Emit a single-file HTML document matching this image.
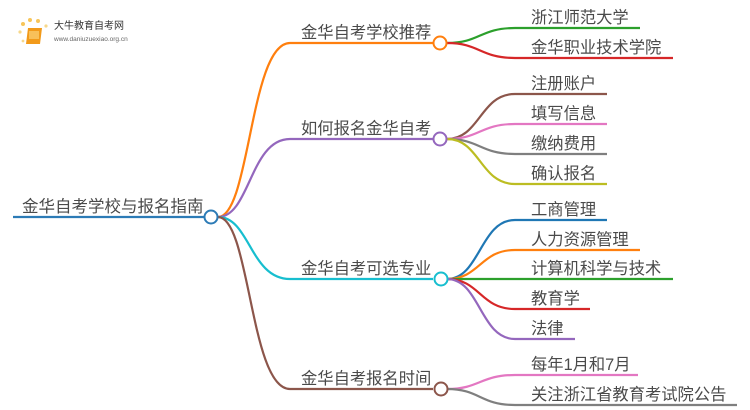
<!DOCTYPE html>
<html><head><meta charset="utf-8"><style>
html,body{margin:0;padding:0;background:#fff;width:750px;height:410px;overflow:hidden}
svg text{font-family:"Liberation Sans","Noto Sans CJK SC",sans-serif;fill:#4a4a4a}
</style></head><body>
<svg width="750" height="410" viewBox="0 0 750 410" xmlns="http://www.w3.org/2000/svg">
<g fill="none" stroke-width="2.2">
<path d="M13 217 H204" stroke="#2c7bb6"/>
<path d="M218 217 C250 217 250 43 290 43 H433" stroke="#ff7f0e"/>
<path d="M218 217 C250 217 250 139 290 139 H433" stroke="#9467bd"/>
<path d="M218 217 C250 217 250 279 290 279 H433" stroke="#17becf"/>
<path d="M218 217 C250 217 250 389 290 389 H433" stroke="#8c564b"/>
<path d="M447 43 C480 43 480 28 515 28 H640" stroke="#2ca02c"/>
<path d="M447 43 C480 43 480 58 515 58 H673" stroke="#d62728"/>
<path d="M447 139 C480 139 480 94 515 94 H607" stroke="#8c564b"/>
<path d="M447 139 C480 139 480 124 515 124 H607" stroke="#e377c2"/>
<path d="M447 139 C480 139 480 154 515 154 H607" stroke="#7f7f7f"/>
<path d="M447 139 C480 139 480 184 515 184 H607" stroke="#bcbd22"/>
<path d="M447 279 C480 279 480 220 515 220 H607" stroke="#1f77b4"/>
<path d="M447 279 C480 279 480 250 515 250 H640" stroke="#ff7f0e"/>
<path d="M447 279 H673" stroke="#2ca02c"/>
<path d="M447 279 C480 279 480 309 515 309 H590" stroke="#d62728"/>
<path d="M447 279 C480 279 480 339 515 339 H575" stroke="#9467bd"/>
<path d="M447 389 C480 389 480 375 515 375 H638" stroke="#e377c2"/>
<path d="M447 389 C480 389 480 405 515 405 H737" stroke="#7f7f7f"/>
</g>
<g fill="#fff" stroke-width="2">
<circle cx="211" cy="217" r="6.5" stroke="#2c7bb6"/>
<circle cx="440" cy="43" r="6.5" stroke="#ff7f0e"/>
<circle cx="440" cy="139" r="6.5" stroke="#9467bd"/>
<circle cx="441" cy="279" r="6.5" stroke="#17becf"/>
<circle cx="441" cy="389" r="6.5" stroke="#8c564b"/>
</g>
<text x="22" y="212" font-size="16.5">金华自考学校与报名指南</text>
<g font-size="16.3">
<text x="301" y="38">金华自考学校推荐</text>
<text x="301" y="134">如何报名金华自考</text>
<text x="301" y="274">金华自考可选专业</text>
<text x="301" y="384">金华自考报名时间</text>
<text x="531" y="23">浙江师范大学</text>
<text x="531" y="53">金华职业技术学院</text>
<text x="531" y="89">注册账户</text>
<text x="531" y="119">填写信息</text>
<text x="531" y="149">缴纳费用</text>
<text x="531" y="179">确认报名</text>
<text x="531" y="215">工商管理</text>
<text x="531" y="245">人力资源管理</text>
<text x="531" y="274">计算机科学与技术</text>
<text x="531" y="304">教育学</text>
<text x="531" y="334">法律</text>
<text x="531" y="370">每年1月和7月</text>
<text x="531" y="400">关注浙江省教育考试院公告</text>
</g>
<g>
<circle cx="23" cy="24" r="2" fill="#f7c55a"/><circle cx="30" cy="20" r="2" fill="#f7c55a"/><circle cx="38" cy="21" r="2" fill="#f7c55a"/><circle cx="20" cy="32" r="1.6" fill="#f7d88a"/><circle cx="23" cy="41" r="1.4" fill="#f7d88a"/><circle cx="46" cy="26" r="1.6" fill="#f7d88a"/>
<path d="M28 28 L42 28 L40 44 L26 44 Z" fill="#f29a1a"/>
<rect x="29" y="31" width="10" height="8" fill="#f8c05a"/>
<text x="54" y="29" font-size="10" style="fill:#333">大牛教育自考网</text>
<text x="54" y="41" font-size="6.5" style="fill:#666">www.daniuzuexiao.org.cn</text>
</g>
</svg>
</body></html>
